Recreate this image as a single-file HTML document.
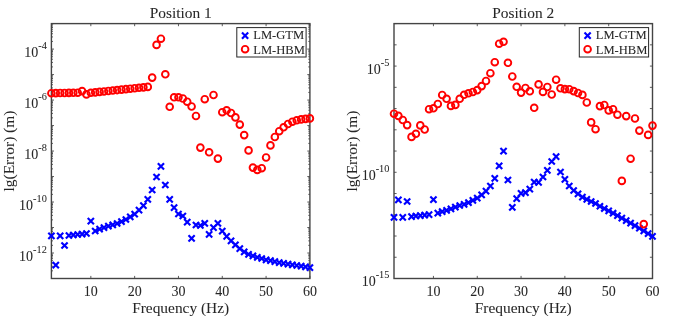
<!DOCTYPE html>
<html><head><meta charset="utf-8"><style>
html,body{margin:0;padding:0;background:#fff;width:685px;height:316px;overflow:hidden}
svg{display:block;will-change:transform}
text{font-family:"Liberation Serif", serif;fill:#262626;stroke:#262626;stroke-width:0.05px}
</style></head><body>
<svg width="685" height="316" viewBox="0 0 685 316">
<path d="M90.83 278.5V275.90M90.83 23.6V26.20M134.65 278.5V275.90M134.65 23.6V26.20M178.46 278.5V275.90M178.46 23.6V26.20M222.27 278.5V275.90M222.27 23.6V26.20M266.09 278.5V275.90M266.09 23.6V26.20M309.90 278.5V275.90M309.90 23.6V26.20M51.4 278.50H54.00M309.9 278.50H307.30M51.4 270.83H53.00M309.9 270.83H308.30M51.4 266.34H53.00M309.9 266.34H308.30M51.4 263.15H53.00M309.9 263.15H308.30M51.4 260.68H53.00M309.9 260.68H308.30M51.4 258.66H53.00M309.9 258.66H308.30M51.4 256.96H53.00M309.9 256.96H308.30M51.4 255.48H53.00M309.9 255.48H308.30M51.4 254.18H53.00M309.9 254.18H308.30M51.4 253.01H54.00M309.9 253.01H307.30M51.4 245.34H53.00M309.9 245.34H308.30M51.4 240.85H53.00M309.9 240.85H308.30M51.4 237.66H53.00M309.9 237.66H308.30M51.4 235.19H53.00M309.9 235.19H308.30M51.4 233.17H53.00M309.9 233.17H308.30M51.4 231.47H53.00M309.9 231.47H308.30M51.4 229.99H53.00M309.9 229.99H308.30M51.4 228.69H53.00M309.9 228.69H308.30M51.4 227.52H54.00M309.9 227.52H307.30M51.4 219.85H53.00M309.9 219.85H308.30M51.4 215.36H53.00M309.9 215.36H308.30M51.4 212.17H53.00M309.9 212.17H308.30M51.4 209.70H53.00M309.9 209.70H308.30M51.4 207.68H53.00M309.9 207.68H308.30M51.4 205.98H53.00M309.9 205.98H308.30M51.4 204.50H53.00M309.9 204.50H308.30M51.4 203.20H53.00M309.9 203.20H308.30M51.4 202.03H54.00M309.9 202.03H307.30M51.4 194.36H53.00M309.9 194.36H308.30M51.4 189.87H53.00M309.9 189.87H308.30M51.4 186.68H53.00M309.9 186.68H308.30M51.4 184.21H53.00M309.9 184.21H308.30M51.4 182.19H53.00M309.9 182.19H308.30M51.4 180.49H53.00M309.9 180.49H308.30M51.4 179.01H53.00M309.9 179.01H308.30M51.4 177.71H53.00M309.9 177.71H308.30M51.4 176.54H54.00M309.9 176.54H307.30M51.4 168.87H53.00M309.9 168.87H308.30M51.4 164.38H53.00M309.9 164.38H308.30M51.4 161.19H53.00M309.9 161.19H308.30M51.4 158.72H53.00M309.9 158.72H308.30M51.4 156.70H53.00M309.9 156.70H308.30M51.4 155.00H53.00M309.9 155.00H308.30M51.4 153.52H53.00M309.9 153.52H308.30M51.4 152.22H53.00M309.9 152.22H308.30M51.4 151.05H54.00M309.9 151.05H307.30M51.4 143.38H53.00M309.9 143.38H308.30M51.4 138.89H53.00M309.9 138.89H308.30M51.4 135.70H53.00M309.9 135.70H308.30M51.4 133.23H53.00M309.9 133.23H308.30M51.4 131.21H53.00M309.9 131.21H308.30M51.4 129.51H53.00M309.9 129.51H308.30M51.4 128.03H53.00M309.9 128.03H308.30M51.4 126.73H53.00M309.9 126.73H308.30M51.4 125.56H54.00M309.9 125.56H307.30M51.4 117.89H53.00M309.9 117.89H308.30M51.4 113.40H53.00M309.9 113.40H308.30M51.4 110.21H53.00M309.9 110.21H308.30M51.4 107.74H53.00M309.9 107.74H308.30M51.4 105.72H53.00M309.9 105.72H308.30M51.4 104.02H53.00M309.9 104.02H308.30M51.4 102.54H53.00M309.9 102.54H308.30M51.4 101.24H53.00M309.9 101.24H308.30M51.4 100.07H54.00M309.9 100.07H307.30M51.4 92.40H53.00M309.9 92.40H308.30M51.4 87.91H53.00M309.9 87.91H308.30M51.4 84.72H53.00M309.9 84.72H308.30M51.4 82.25H53.00M309.9 82.25H308.30M51.4 80.23H53.00M309.9 80.23H308.30M51.4 78.53H53.00M309.9 78.53H308.30M51.4 77.05H53.00M309.9 77.05H308.30M51.4 75.75H53.00M309.9 75.75H308.30M51.4 74.58H54.00M309.9 74.58H307.30M51.4 66.91H53.00M309.9 66.91H308.30M51.4 62.42H53.00M309.9 62.42H308.30M51.4 59.23H53.00M309.9 59.23H308.30M51.4 56.76H53.00M309.9 56.76H308.30M51.4 54.74H53.00M309.9 54.74H308.30M51.4 53.04H53.00M309.9 53.04H308.30M51.4 51.56H53.00M309.9 51.56H308.30M51.4 50.26H53.00M309.9 50.26H308.30M51.4 49.09H54.00M309.9 49.09H307.30M51.4 41.42H53.00M309.9 41.42H308.30M51.4 36.93H53.00M309.9 36.93H308.30M51.4 33.74H53.00M309.9 33.74H308.30M51.4 31.27H53.00M309.9 31.27H308.30M51.4 29.25H53.00M309.9 29.25H308.30M51.4 27.55H53.00M309.9 27.55H308.30M51.4 26.07H53.00M309.9 26.07H308.30M51.4 24.77H53.00M309.9 24.77H308.30M51.4 23.60H54.00M309.9 23.60H307.30" stroke="#4a4a4a" stroke-width="0.9" fill="none"/>
<rect x="51.4" y="23.6" width="258.50" height="254.90" fill="none" stroke="#444444" stroke-width="1.4"/>
<g fill="none" stroke="#0000ff" stroke-width="2.15"><path d="M48.30 232.80L54.50 239.00M48.30 239.00L54.50 232.80"/><path d="M52.68 262.00L58.88 268.20M52.68 268.20L58.88 262.00"/><path d="M57.06 232.80L63.26 239.00M57.06 239.00L63.26 232.80"/><path d="M61.44 242.40L67.64 248.60M61.44 248.60L67.64 242.40"/><path d="M65.83 232.40L72.03 238.60M65.83 238.60L72.03 232.40"/><path d="M70.21 231.90L76.41 238.10M70.21 238.10L76.41 231.90"/><path d="M74.59 231.40L80.79 237.60M74.59 237.60L80.79 231.40"/><path d="M78.97 231.00L85.17 237.20M78.97 237.20L85.17 231.00"/><path d="M83.35 230.40L89.55 236.60M83.35 236.60L89.55 230.40"/><path d="M87.73 218.00L93.93 224.20M87.73 224.20L93.93 218.00"/><path d="M92.11 227.90L98.31 234.10M92.11 234.10L98.31 227.90"/><path d="M96.49 226.10L102.69 232.30M96.49 232.30L102.69 226.10"/><path d="M100.88 224.50L107.08 230.70M100.88 230.70L107.08 224.50"/><path d="M105.26 223.10L111.46 229.30M105.26 229.30L111.46 223.10"/><path d="M109.64 221.80L115.84 228.00M109.64 228.00L115.84 221.80"/><path d="M114.02 220.40L120.22 226.60M114.02 226.60L120.22 220.40"/><path d="M118.40 218.60L124.60 224.80M118.40 224.80L124.60 218.60"/><path d="M122.78 216.40L128.98 222.60M122.78 222.60L128.98 216.40"/><path d="M127.16 213.70L133.36 219.90M127.16 219.90L133.36 213.70"/><path d="M131.55 211.00L137.75 217.20M131.55 217.20L137.75 211.00"/><path d="M135.93 207.00L142.13 213.20M135.93 213.20L142.13 207.00"/><path d="M140.31 202.50L146.51 208.70M140.31 208.70L146.51 202.50"/><path d="M144.69 196.20L150.89 202.40M144.69 202.40L150.89 196.20"/><path d="M149.07 186.90L155.27 193.10M149.07 193.10L155.27 186.90"/><path d="M153.45 173.90L159.65 180.10M153.45 180.10L159.65 173.90"/><path d="M157.83 163.30L164.03 169.50M157.83 169.50L164.03 163.30"/><path d="M162.22 181.90L168.42 188.10M162.22 188.10L168.42 181.90"/><path d="M166.60 196.20L172.80 202.40M166.60 202.40L172.80 196.20"/><path d="M170.98 204.60L177.18 210.80M170.98 210.80L177.18 204.60"/><path d="M175.36 210.90L181.56 217.10M175.36 217.10L181.56 210.90"/><path d="M179.74 212.90L185.94 219.10M179.74 219.10L185.94 212.90"/><path d="M184.12 219.00L190.32 225.20M184.12 225.20L190.32 219.00"/><path d="M188.50 235.20L194.70 241.40M188.50 241.40L194.70 235.20"/><path d="M192.88 221.90L199.08 228.10M192.88 228.10L199.08 221.90"/><path d="M197.27 222.40L203.47 228.60M197.27 228.60L203.47 222.40"/><path d="M201.65 220.20L207.85 226.40M201.65 226.40L207.85 220.20"/><path d="M206.03 231.30L212.23 237.50M206.03 237.50L212.23 231.30"/><path d="M210.41 224.60L216.61 230.80M210.41 230.80L216.61 224.60"/><path d="M214.79 220.20L220.99 226.40M214.79 226.40L220.99 220.20"/><path d="M219.17 228.00L225.37 234.20M219.17 234.20L225.37 228.00"/><path d="M223.55 233.30L229.75 239.50M223.55 239.50L229.75 233.30"/><path d="M227.94 237.70L234.14 243.90M227.94 243.90L234.14 237.70"/><path d="M232.32 241.70L238.52 247.90M232.32 247.90L238.52 241.70"/><path d="M236.70 245.60L242.90 251.80M236.70 251.80L242.90 245.60"/><path d="M241.08 248.80L247.28 255.00M241.08 255.00L247.28 248.80"/><path d="M245.46 251.20L251.66 257.40M245.46 257.40L251.66 251.20"/><path d="M249.84 252.80L256.04 259.00M249.84 259.00L256.04 252.80"/><path d="M254.22 254.30L260.42 260.50M254.22 260.50L260.42 254.30"/><path d="M258.61 255.40L264.81 261.60M258.61 261.60L264.81 255.40"/><path d="M262.99 256.70L269.19 262.90M262.99 262.90L269.19 256.70"/><path d="M267.37 257.50L273.57 263.70M267.37 263.70L273.57 257.50"/><path d="M271.75 258.60L277.95 264.80M271.75 264.80L277.95 258.60"/><path d="M276.13 259.60L282.33 265.80M276.13 265.80L282.33 259.60"/><path d="M280.51 260.30L286.71 266.50M280.51 266.50L286.71 260.30"/><path d="M284.89 261.10L291.09 267.30M284.89 267.30L291.09 261.10"/><path d="M289.27 261.80L295.47 268.00M289.27 268.00L295.47 261.80"/><path d="M293.66 262.40L299.86 268.60M293.66 268.60L299.86 262.40"/><path d="M298.04 263.00L304.24 269.20M298.04 269.20L304.24 263.00"/><path d="M302.42 263.70L308.62 269.90M302.42 269.90L308.62 263.70"/><path d="M306.80 264.50L313.00 270.70M306.80 270.70L313.00 264.50"/></g>
<g fill="none" stroke="#ff0000" stroke-width="1.9"><circle cx="51.40" cy="93.20" r="3.35"/><circle cx="55.78" cy="93.10" r="3.35"/><circle cx="60.16" cy="93.00" r="3.35"/><circle cx="64.54" cy="93.00" r="3.35"/><circle cx="68.93" cy="92.90" r="3.35"/><circle cx="73.31" cy="92.80" r="3.35"/><circle cx="77.69" cy="92.70" r="3.35"/><circle cx="82.07" cy="91.10" r="3.35"/><circle cx="86.45" cy="94.40" r="3.35"/><circle cx="90.83" cy="92.80" r="3.35"/><circle cx="95.21" cy="92.35" r="3.35"/><circle cx="99.59" cy="91.89" r="3.35"/><circle cx="103.98" cy="91.44" r="3.35"/><circle cx="108.36" cy="90.98" r="3.35"/><circle cx="112.74" cy="90.53" r="3.35"/><circle cx="117.12" cy="90.08" r="3.35"/><circle cx="121.50" cy="89.62" r="3.35"/><circle cx="125.88" cy="89.17" r="3.35"/><circle cx="130.26" cy="88.72" r="3.35"/><circle cx="134.65" cy="88.26" r="3.35"/><circle cx="139.03" cy="87.81" r="3.35"/><circle cx="143.41" cy="87.35" r="3.35"/><circle cx="147.79" cy="86.90" r="3.35"/><circle cx="152.17" cy="77.60" r="3.35"/><circle cx="156.55" cy="44.90" r="3.35"/><circle cx="160.93" cy="38.70" r="3.35"/><circle cx="165.32" cy="74.30" r="3.35"/><circle cx="169.70" cy="106.80" r="3.35"/><circle cx="174.08" cy="97.30" r="3.35"/><circle cx="178.46" cy="97.30" r="3.35"/><circle cx="182.84" cy="98.50" r="3.35"/><circle cx="187.22" cy="101.70" r="3.35"/><circle cx="191.60" cy="106.50" r="3.35"/><circle cx="195.98" cy="116.00" r="3.35"/><circle cx="200.37" cy="147.60" r="3.35"/><circle cx="204.75" cy="99.20" r="3.35"/><circle cx="209.13" cy="152.30" r="3.35"/><circle cx="213.51" cy="95.00" r="3.35"/><circle cx="217.89" cy="158.60" r="3.35"/><circle cx="222.27" cy="112.20" r="3.35"/><circle cx="226.65" cy="110.30" r="3.35"/><circle cx="231.04" cy="113.00" r="3.35"/><circle cx="235.42" cy="117.40" r="3.35"/><circle cx="239.80" cy="124.60" r="3.35"/><circle cx="244.18" cy="135.10" r="3.35"/><circle cx="248.56" cy="150.40" r="3.35"/><circle cx="252.94" cy="167.60" r="3.35"/><circle cx="257.32" cy="169.90" r="3.35"/><circle cx="261.71" cy="168.20" r="3.35"/><circle cx="266.09" cy="157.50" r="3.35"/><circle cx="270.47" cy="145.40" r="3.35"/><circle cx="274.85" cy="137.00" r="3.35"/><circle cx="279.23" cy="131.20" r="3.35"/><circle cx="283.61" cy="127.30" r="3.35"/><circle cx="287.99" cy="124.00" r="3.35"/><circle cx="292.37" cy="121.70" r="3.35"/><circle cx="296.76" cy="120.30" r="3.35"/><circle cx="301.14" cy="119.40" r="3.35"/><circle cx="305.52" cy="118.90" r="3.35"/><circle cx="309.90" cy="118.40" r="3.35"/></g>
<text x="90.83" y="295.8" font-size="14" text-anchor="middle">10</text>
<text x="134.65" y="295.8" font-size="14" text-anchor="middle">20</text>
<text x="178.46" y="295.8" font-size="14" text-anchor="middle">30</text>
<text x="222.27" y="295.8" font-size="14" text-anchor="middle">40</text>
<text x="266.09" y="295.8" font-size="14" text-anchor="middle">50</text>
<text x="309.90" y="295.8" font-size="14" text-anchor="middle">60</text>
<text x="46.80" y="56.69" font-size="14" text-anchor="end">10<tspan font-size="10.3" dy="-7.7">-4</tspan></text>
<text x="46.80" y="107.67" font-size="14" text-anchor="end">10<tspan font-size="10.3" dy="-7.7">-6</tspan></text>
<text x="46.80" y="158.65" font-size="14" text-anchor="end">10<tspan font-size="10.3" dy="-7.7">-8</tspan></text>
<text x="46.80" y="209.63" font-size="14" text-anchor="end">10<tspan font-size="10.3" dy="-7.7">-10</tspan></text>
<text x="46.80" y="260.61" font-size="14" text-anchor="end">10<tspan font-size="10.3" dy="-7.7">-12</tspan></text>
<text x="180.65" y="17.7" font-size="15.4" text-anchor="middle">Position 1</text>
<text x="180.65" y="313.1" font-size="15.4" text-anchor="middle">Frequency (Hz)</text>
<text transform="translate(14.2 151.05) rotate(-90)" font-size="15.4" text-anchor="middle">lg(Error) (m)</text>
<rect x="236.8" y="27.6" width="69.3" height="29.4" fill="#fff" stroke="#262626" stroke-width="1.0"/>
<g fill="none" stroke="#0000ff" stroke-width="2.15"><path d="M242.00 32.50L248.20 38.70M242.00 38.70L248.20 32.50"/></g>
<g fill="none" stroke="#ff0000" stroke-width="1.9"><circle cx="245.10" cy="49.20" r="3.35"/></g>
<text x="253.20" y="39.3" font-size="12.6">LM-GTM</text>
<text x="253.20" y="53.7" font-size="12.6">LM-HBM</text>
<path d="M433.43 278.5V275.90M433.43 23.6V26.20M477.25 278.5V275.90M477.25 23.6V26.20M521.06 278.5V275.90M521.06 23.6V26.20M564.87 278.5V275.90M564.87 23.6V26.20M608.69 278.5V275.90M608.69 23.6V26.20M652.50 278.5V275.90M652.50 23.6V26.20M394.0 278.50H396.60M652.5 278.50H649.90M394.0 257.26H396.60M652.5 257.26H649.90M394.0 236.02H396.60M652.5 236.02H649.90M394.0 214.78H396.60M652.5 214.78H649.90M394.0 193.53H396.60M652.5 193.53H649.90M394.0 172.29H396.60M652.5 172.29H649.90M394.0 151.05H396.60M652.5 151.05H649.90M394.0 129.81H396.60M652.5 129.81H649.90M394.0 108.57H396.60M652.5 108.57H649.90M394.0 87.33H396.60M652.5 87.33H649.90M394.0 66.08H396.60M652.5 66.08H649.90M394.0 44.84H396.60M652.5 44.84H649.90M394.0 23.60H396.60M652.5 23.60H649.90" stroke="#4a4a4a" stroke-width="0.9" fill="none"/>
<rect x="394.0" y="23.6" width="258.50" height="254.90" fill="none" stroke="#444444" stroke-width="1.4"/>
<g fill="none" stroke="#0000ff" stroke-width="2.15"><path d="M390.90 214.20L397.10 220.40M390.90 220.40L397.10 214.20"/><path d="M395.28 196.80L401.48 203.00M395.28 203.00L401.48 196.80"/><path d="M399.66 214.20L405.86 220.40M399.66 220.40L405.86 214.20"/><path d="M404.04 198.40L410.24 204.60M404.04 204.60L410.24 198.40"/><path d="M408.43 213.50L414.63 219.70M408.43 219.70L414.63 213.50"/><path d="M412.81 212.90L419.01 219.10M412.81 219.10L419.01 212.90"/><path d="M417.19 212.50L423.39 218.70M417.19 218.70L423.39 212.50"/><path d="M421.57 212.00L427.77 218.20M421.57 218.20L427.77 212.00"/><path d="M425.95 211.60L432.15 217.80M425.95 217.80L432.15 211.60"/><path d="M430.33 196.50L436.53 202.70M430.33 202.70L436.53 196.50"/><path d="M434.71 210.00L440.91 216.20M434.71 216.20L440.91 210.00"/><path d="M439.09 208.50L445.29 214.70M439.09 214.70L445.29 208.50"/><path d="M443.48 207.30L449.68 213.50M443.48 213.50L449.68 207.30"/><path d="M447.86 205.80L454.06 212.00M447.86 212.00L454.06 205.80"/><path d="M452.24 204.00L458.44 210.20M452.24 210.20L458.44 204.00"/><path d="M456.62 202.40L462.82 208.60M456.62 208.60L462.82 202.40"/><path d="M461.00 201.30L467.20 207.50M461.00 207.50L467.20 201.30"/><path d="M465.38 199.50L471.58 205.70M465.38 205.70L471.58 199.50"/><path d="M469.76 197.30L475.96 203.50M469.76 203.50L475.96 197.30"/><path d="M474.15 195.10L480.35 201.30M474.15 201.30L480.35 195.10"/><path d="M478.53 191.80L484.73 198.00M478.53 198.00L484.73 191.80"/><path d="M482.91 188.00L489.11 194.20M482.91 194.20L489.11 188.00"/><path d="M487.29 182.90L493.49 189.10M487.29 189.10L493.49 182.90"/><path d="M491.67 175.20L497.87 181.40M491.67 181.40L497.87 175.20"/><path d="M496.05 162.70L502.25 168.90M496.05 168.90L502.25 162.70"/><path d="M500.43 148.10L506.63 154.30M500.43 154.30L506.63 148.10"/><path d="M504.82 176.90L511.02 183.10M504.82 183.10L511.02 176.90"/><path d="M509.20 204.20L515.40 210.40M509.20 210.40L515.40 204.20"/><path d="M513.58 195.50L519.78 201.70M513.58 201.70L519.78 195.50"/><path d="M517.96 190.30L524.16 196.50M517.96 196.50L524.16 190.30"/><path d="M522.34 189.50L528.54 195.70M522.34 195.70L528.54 189.50"/><path d="M526.72 186.10L532.92 192.30M526.72 192.30L532.92 186.10"/><path d="M531.10 179.00L537.30 185.20M531.10 185.20L537.30 179.00"/><path d="M535.48 179.30L541.68 185.50M535.48 185.50L541.68 179.30"/><path d="M539.87 173.90L546.07 180.10M539.87 180.10L546.07 173.90"/><path d="M544.25 167.30L550.45 173.50M544.25 173.50L550.45 167.30"/><path d="M548.63 158.40L554.83 164.60M548.63 164.60L554.83 158.40"/><path d="M553.01 153.50L559.21 159.70M553.01 159.70L559.21 153.50"/><path d="M557.39 168.90L563.59 175.10M557.39 175.10L563.59 168.90"/><path d="M561.77 176.30L567.97 182.50M561.77 182.50L567.97 176.30"/><path d="M566.15 182.90L572.35 189.10M566.15 189.10L572.35 182.90"/><path d="M570.54 187.40L576.74 193.60M570.54 193.60L576.74 187.40"/><path d="M574.92 190.70L581.12 196.90M574.92 196.90L581.12 190.70"/><path d="M579.30 194.00L585.50 200.20M579.30 200.20L585.50 194.00"/><path d="M583.68 196.20L589.88 202.40M583.68 202.40L589.88 196.20"/><path d="M588.06 198.40L594.26 204.60M588.06 204.60L594.26 198.40"/><path d="M592.44 200.40L598.64 206.60M592.44 206.60L598.64 200.40"/><path d="M596.82 203.14L603.02 209.34M596.82 209.34L603.02 203.14"/><path d="M601.21 205.43L607.41 211.63M601.21 211.63L607.41 205.43"/><path d="M605.59 207.75L611.79 213.95M605.59 213.95L611.79 207.75"/><path d="M609.97 210.12L616.17 216.32M609.97 216.32L616.17 210.12"/><path d="M614.35 212.52L620.55 218.72M614.35 218.72L620.55 212.52"/><path d="M618.73 214.97L624.93 221.17M618.73 221.17L624.93 214.97"/><path d="M623.11 217.45L629.31 223.65M623.11 223.65L629.31 217.45"/><path d="M627.49 219.98L633.69 226.18M627.49 226.18L633.69 219.98"/><path d="M631.87 222.54L638.07 228.74M631.87 228.74L638.07 222.54"/><path d="M636.26 225.15L642.46 231.35M636.26 231.35L642.46 225.15"/><path d="M640.64 227.79L646.84 233.99M640.64 233.99L646.84 227.79"/><path d="M645.02 230.48L651.22 236.68M645.02 236.68L651.22 230.48"/><path d="M649.40 233.20L655.60 239.40M649.40 239.40L655.60 233.20"/></g>
<g fill="none" stroke="#ff0000" stroke-width="1.9"><circle cx="394.00" cy="113.70" r="3.35"/><circle cx="398.38" cy="115.90" r="3.35"/><circle cx="402.76" cy="120.00" r="3.35"/><circle cx="407.14" cy="125.10" r="3.35"/><circle cx="411.53" cy="136.90" r="3.35"/><circle cx="415.91" cy="133.80" r="3.35"/><circle cx="420.29" cy="125.40" r="3.35"/><circle cx="424.67" cy="129.50" r="3.35"/><circle cx="429.05" cy="109.20" r="3.35"/><circle cx="433.43" cy="108.30" r="3.35"/><circle cx="437.81" cy="104.00" r="3.35"/><circle cx="442.19" cy="95.00" r="3.35"/><circle cx="446.58" cy="98.80" r="3.35"/><circle cx="450.96" cy="105.90" r="3.35"/><circle cx="455.34" cy="104.90" r="3.35"/><circle cx="459.72" cy="98.80" r="3.35"/><circle cx="464.10" cy="94.80" r="3.35"/><circle cx="468.48" cy="93.30" r="3.35"/><circle cx="472.86" cy="92.00" r="3.35"/><circle cx="477.25" cy="90.10" r="3.35"/><circle cx="481.63" cy="86.10" r="3.35"/><circle cx="486.01" cy="81.00" r="3.35"/><circle cx="490.39" cy="73.20" r="3.35"/><circle cx="494.77" cy="62.20" r="3.35"/><circle cx="499.15" cy="43.70" r="3.35"/><circle cx="503.53" cy="41.80" r="3.35"/><circle cx="507.92" cy="62.80" r="3.35"/><circle cx="512.30" cy="76.50" r="3.35"/><circle cx="516.68" cy="86.80" r="3.35"/><circle cx="521.06" cy="92.60" r="3.35"/><circle cx="525.44" cy="88.00" r="3.35"/><circle cx="529.82" cy="91.30" r="3.35"/><circle cx="534.20" cy="107.80" r="3.35"/><circle cx="538.58" cy="84.40" r="3.35"/><circle cx="542.97" cy="91.90" r="3.35"/><circle cx="547.35" cy="87.00" r="3.35"/><circle cx="551.73" cy="94.50" r="3.35"/><circle cx="556.11" cy="79.70" r="3.35"/><circle cx="560.49" cy="88.30" r="3.35"/><circle cx="564.87" cy="89.10" r="3.35"/><circle cx="569.25" cy="89.20" r="3.35"/><circle cx="573.64" cy="91.10" r="3.35"/><circle cx="578.02" cy="93.00" r="3.35"/><circle cx="582.40" cy="94.90" r="3.35"/><circle cx="586.78" cy="102.50" r="3.35"/><circle cx="591.16" cy="122.40" r="3.35"/><circle cx="595.54" cy="129.20" r="3.35"/><circle cx="599.92" cy="106.10" r="3.35"/><circle cx="604.31" cy="105.00" r="3.35"/><circle cx="608.69" cy="110.40" r="3.35"/><circle cx="613.07" cy="109.20" r="3.35"/><circle cx="617.45" cy="114.70" r="3.35"/><circle cx="621.83" cy="180.90" r="3.35"/><circle cx="626.21" cy="116.10" r="3.35"/><circle cx="630.59" cy="158.70" r="3.35"/><circle cx="634.97" cy="118.50" r="3.35"/><circle cx="639.36" cy="130.60" r="3.35"/><circle cx="643.74" cy="224.10" r="3.35"/><circle cx="648.12" cy="134.90" r="3.35"/><circle cx="652.50" cy="125.60" r="3.35"/></g>
<text x="433.43" y="295.8" font-size="14" text-anchor="middle">10</text>
<text x="477.25" y="295.8" font-size="14" text-anchor="middle">20</text>
<text x="521.06" y="295.8" font-size="14" text-anchor="middle">30</text>
<text x="564.87" y="295.8" font-size="14" text-anchor="middle">40</text>
<text x="608.69" y="295.8" font-size="14" text-anchor="middle">50</text>
<text x="652.50" y="295.8" font-size="14" text-anchor="middle">60</text>
<text x="389.40" y="73.68" font-size="14" text-anchor="end">10<tspan font-size="10.3" dy="-7.7">-5</tspan></text>
<text x="389.40" y="179.89" font-size="14" text-anchor="end">10<tspan font-size="10.3" dy="-7.7">-10</tspan></text>
<text x="389.40" y="286.10" font-size="14" text-anchor="end">10<tspan font-size="10.3" dy="-7.7">-15</tspan></text>
<text x="523.25" y="17.7" font-size="15.4" text-anchor="middle">Position 2</text>
<text x="523.25" y="313.1" font-size="15.4" text-anchor="middle">Frequency (Hz)</text>
<text transform="translate(356.6 151.05) rotate(-90)" font-size="15.4" text-anchor="middle">lg(Error) (m)</text>
<rect x="579.3" y="27.6" width="69.3" height="29.4" fill="#fff" stroke="#262626" stroke-width="1.0"/>
<g fill="none" stroke="#0000ff" stroke-width="2.15"><path d="M584.50 32.50L590.70 38.70M584.50 38.70L590.70 32.50"/></g>
<g fill="none" stroke="#ff0000" stroke-width="1.9"><circle cx="587.60" cy="49.20" r="3.35"/></g>
<text x="595.70" y="39.3" font-size="12.6">LM-GTM</text>
<text x="595.70" y="53.7" font-size="12.6">LM-HBM</text>
</svg>
</body></html>
